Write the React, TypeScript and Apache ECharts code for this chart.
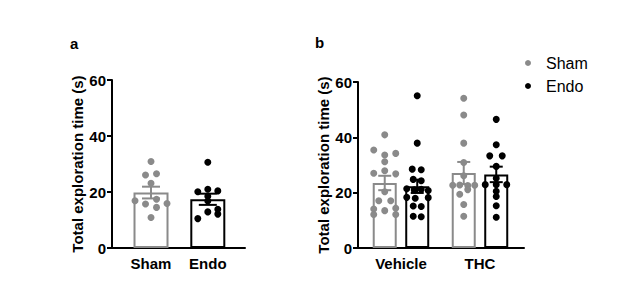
import React, { useEffect, useRef } from "react";
import * as echarts from "echarts";

// ---------- data ----------
const yTicks = [0, 20, 40, 60];
const yAxisTitle = "Total exploration time (s)";
const legendLabels = ["Sham", "Endo"];
const panelLetters = ["a", "b"];

// Panel a
const panelACategories = ["Sham", "Endo"];
const panelAMeans = [19.8, 17.4];
const panelASem = [2.1, 2.0];
const aShamValues = [30.9, 26.1, 26.5, 23.1, 16.9, 15.7, 17.4, 14.5, 15.9, 10.9];
const aShamJitter = [0, -5.5, 5.5, 0, -16, -5.5, 5.5, 5.5, 16, 0];
const aEndoValues = [30.6, 20.1, 21.0, 20.4, 18.5, 16.8, 10.5, 12.9, 13.8, 12.1];
const aEndoJitter = [0, -10, 0, 10, 0, 0, -10, 0, 10, 10];

// Panel b
const panelBCategories = ["Vehicle", "THC"];
const panelBShamMeans = [23.5, 27.1];
const panelBShamSem = [2.6, 4.0];
const panelBEndoMeans = [22.3, 26.6];
const panelBEndoSem = [2.4, 2.8];
const vehShamValues = [40.9, 35.4, 33.6, 34.2, 31.2, 27.0, 27.9, 26.8, 20.3, 17.1, 17.1, 14.1, 13.5, 14.4, 12.1, 12.1];
const vehShamJitter = [0, -11, 0, 11, 0, -11, 0, 11, 0, -6, 6, -11, 0, 11, -11, 11];
const vehEndoValues = [55.0, 37.9, 28.5, 28.3, 24.8, 24.3, 21.4, 21.0, 21.2, 20.8, 18.3, 18.0, 18.2, 15.2, 15.0, 11.5, 11.3];
const vehEndoJitter = [0, 0, -5, 4, -4, 4, -10.5, -3, 4, 11, -10.5, -2, 11, -4, 4, -4, 4];
const thcShamValues = [54.1, 48.1, 37.9, 30.9, 26.1, 22.7, 22.8, 22.6, 22.7, 21.1, 19.4, 15.7, 11.5];
const thcShamJitter = [0, 0, 0, 0, 0, -11, -4, 4, 11, 4, -4, 0, 0];
const thcEndoValues = [46.5, 37.3, 33.3, 33.3, 29.5, 25.2, 22.9, 22.9, 22.9, 20.5, 18.6, 15.3, 11.1];
const thcEndoJitter = [0, 0, -6.5, 6, 0, 0, -11, 0, 10.5, 0, 0, 0, 0];

// ---------- styles / layout ----------
const GRAY = "#8a8a8a";
const BLACK = "#000000";
const FONT = "'Liberation Sans', Arial, Helvetica, sans-serif";

const A = { left: 112, top: 80, width: 133, height: 168, min: 0.313, max: 2.655 };
const B = { left: 358, top: 82, width: 166, height: 166, min: 0.456, max: 2.557 };
const B_PX_PER_UNIT = B.width / (B.max - B.min);
const B_BAR_OFFSET = 16.25 / B_PX_PER_UNIT;

const App: React.FC = () => {
  const ref = useRef<HTMLDivElement>(null);

  useEffect(() => {
    if (!ref.current) return;
    const chart = echarts.init(ref.current, undefined, { renderer: "svg" });

    const yAxisCommon = (gridIndex: number) => ({
      type: "value" as const,
      gridIndex,
      min: 0,
      max: yTicks[yTicks.length - 1],
      interval: yTicks[1] - yTicks[0],
      name: yAxisTitle,
      nameLocation: "middle" as const,
      nameGap: 26,
      nameTextStyle: { fontFamily: FONT, fontWeight: "bold", fontSize: 15, color: BLACK },
      axisLine: { show: true, lineStyle: { color: BLACK, width: 2 } },
      axisTick: { show: true, inside: false, length: 5, lineStyle: { color: BLACK, width: 2 } },
      axisLabel: { margin: 6, fontFamily: FONT, fontWeight: "bold", fontSize: 15, color: BLACK },
      splitLine: { show: false },
    });

    const xAxisCommon = (gridIndex: number, g: typeof A, cats: string[]) => ({
      type: "value" as const,
      gridIndex,
      min: g.min,
      max: g.max,
      axisLine: { show: true, onZero: false, lineStyle: { color: BLACK, width: 2 } },
      axisTick: { show: false },
      splitLine: { show: false },
      axisLabel: {
        customValues: cats.map((_, i) => i + 1),
        formatter: (v: number) => cats[Math.round(v) - 1] ?? "",
        margin: 8,
        fontFamily: FONT,
        fontWeight: "bold",
        fontSize: 15,
        color: BLACK,
      },
    });

    const dots = (name: string, values: number[], jitter: number[], x: number, color: string, axisIdx: number) => ({
      type: "scatter" as const,
      name,
      xAxisIndex: axisIdx,
      yAxisIndex: axisIdx,
      symbol: "circle",
      symbolSize: 7,
      z: 3,
      itemStyle: { color, opacity: 1 },
      data: values.map((v, i) => ({ value: [x, v], symbolOffset: [jitter[i] ?? 0, 0] })),
    });

    const errorBars = (xs: number[], means: number[], sems: number[], color: string, axisIdx: number, capHalf: number) => ({
      type: "custom" as const,
      xAxisIndex: axisIdx,
      yAxisIndex: axisIdx,
      z: 4,
      encode: { x: 0, y: 1 },
      data: xs.map((x, i) => [x, means[i], sems[i]]),
      renderItem: (_p: any, api: any) => {
        const x = api.value(0);
        const m = api.value(1);
        const s = api.value(2);
        const top = api.coord([x, m + s]);
        const bot = api.coord([x, m - s]);
        const style = { stroke: color, lineWidth: 2 };
        return {
          type: "group",
          children: [
            { type: "line", shape: { x1: top[0], y1: top[1], x2: bot[0], y2: bot[1] }, style },
            { type: "line", shape: { x1: top[0] - capHalf, y1: top[1], x2: top[0] + capHalf, y2: top[1] }, style },
            { type: "line", shape: { x1: bot[0] - capHalf, y1: bot[1], x2: bot[0] + capHalf, y2: bot[1] }, style },
          ],
        };
      },
    });

    const barItem = (x: number, v: number, color: string) => ({
      value: [x, v],
      itemStyle: { color: "#ffffff", borderColor: color, borderWidth: 2 },
    });

    const bXs = panelBCategories.map((_, i) => i + 1);
    const bShamXs = bXs.map((x) => x - B_BAR_OFFSET);
    const bEndoXs = bXs.map((x) => x + B_BAR_OFFSET);

    const option: any = {
      animation: false,
      backgroundColor: "#ffffff",
      textStyle: { fontFamily: FONT },
      grid: [
        { left: A.left, top: A.top, width: A.width, height: A.height },
        { left: B.left, top: B.top, width: B.width, height: B.height },
      ],
      xAxis: [xAxisCommon(0, A, panelACategories), xAxisCommon(1, B, panelBCategories)],
      yAxis: [yAxisCommon(0), yAxisCommon(1)],
      series: [
        {
          type: "bar",
          xAxisIndex: 0,
          yAxisIndex: 0,
          barWidth: 35,
          z: 2,
          data: [barItem(1, panelAMeans[0], GRAY), barItem(2, panelAMeans[1], BLACK)],
        },
        dots("Sham", aShamValues, aShamJitter, 1, GRAY, 0),
        dots("Endo", aEndoValues, aEndoJitter, 2, BLACK, 0),
        errorBars([1], [panelAMeans[0]], [panelASem[0]], GRAY, 0, 9),
        errorBars([2], [panelAMeans[1]], [panelASem[1]], BLACK, 0, 9),
        {
          type: "bar",
          xAxisIndex: 1,
          yAxisIndex: 1,
          barWidth: 24,
          z: 2,
          data: [
            barItem(bShamXs[0], panelBShamMeans[0], GRAY),
            barItem(bEndoXs[0], panelBEndoMeans[0], BLACK),
            barItem(bShamXs[1], panelBShamMeans[1], GRAY),
            barItem(bEndoXs[1], panelBEndoMeans[1], BLACK),
          ],
        },
        dots("Sham", vehShamValues, vehShamJitter, bShamXs[0], GRAY, 1),
        dots("Endo", vehEndoValues, vehEndoJitter, bEndoXs[0], BLACK, 1),
        dots("Sham", thcShamValues, thcShamJitter, bShamXs[1], GRAY, 1),
        dots("Endo", thcEndoValues, thcEndoJitter, bEndoXs[1], BLACK, 1),
        errorBars(bShamXs, panelBShamMeans, panelBShamSem, GRAY, 1, 6.5),
        errorBars(bEndoXs, panelBEndoMeans, panelBEndoSem, BLACK, 1, 6.5),
      ],
      graphic: [
        {
          type: "text",
          left: 70,
          top: 36,
          style: { text: panelLetters[0], font: `bold 15px ${FONT}`, fill: BLACK },
        },
        {
          type: "text",
          left: 315,
          top: 35,
          style: { text: panelLetters[1], font: `bold 15px ${FONT}`, fill: BLACK },
        },
        { type: "circle", shape: { cx: 528, cy: 63, r: 3 }, style: { fill: GRAY } },
        { type: "circle", shape: { cx: 528, cy: 86, r: 3 }, style: { fill: BLACK } },
        {
          type: "text",
          x: 546,
          y: 63,
          style: { text: legendLabels[0], font: `16px ${FONT}`, fill: BLACK, verticalAlign: "middle" },
        },
        {
          type: "text",
          x: 546,
          y: 86,
          style: { text: legendLabels[1], font: `16px ${FONT}`, fill: BLACK, verticalAlign: "middle" },
        },
      ],
    };

    chart.setOption(option);
    return () => chart.dispose();
  }, []);

  return (
    <div
      ref={ref}
      style={{ position: "fixed", left: 0, top: 0, width: 617, height: 285, background: "#fff" }}
    />
  );
};

export default App;
